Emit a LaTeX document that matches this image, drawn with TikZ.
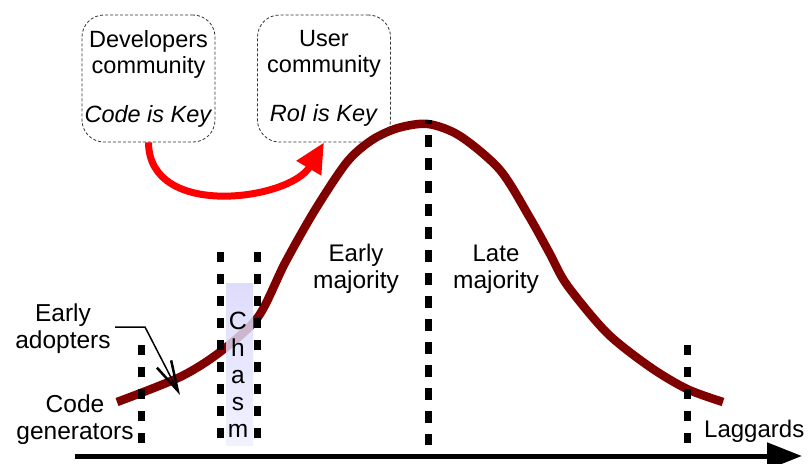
\documentclass[tikz,border=0pt]{standalone}
\usepackage{fontspec}
\setmainfont{Liberation Sans}
\usetikzlibrary{arrows.meta}
\definecolor{maroonc}{RGB}{128,0,0}
\definecolor{chasmtop}{RGB}{214,214,250}
\definecolor{chasmbot}{RGB}{238,238,255}
\begin{document}
\begin{tikzpicture}[x=1pt,y=-1pt,
  lbl/.style={font=\fontsize{24.5pt}{27pt}\selectfont, align=center, inner sep=0pt},
  cbox/.style={draw=black!80, dash pattern=on 3pt off 2pt, line width=0.8pt,
    rounded corners=22pt, minimum width=133pt, minimum height=127pt, inner sep=0pt,
    align=center, font=\fontsize{23.5pt}{26pt}\selectfont},
  sidedots/.style={line width=7pt, dash pattern=on 10pt off 12pt},
  middots/.style={line width=7pt, dash pattern=on 12pt off 11pt, dash phase=8pt},
]
\useasboundingbox (0,0) rectangle (810,463);

% bell curve
\draw[maroonc, line width=8.5pt] plot[smooth, tension=0.5] coordinates {
  (117,402) (180,377) (220,352) (258,317) (285,263) (315,210)
  (347,162) (372,140) (398,128) (428,124) (460,136) (500,170) (530,218)
  (550,254) (567,285) (607,333) (650,367) (687,389) (723,402)};

% chasm
\shade[top color=chasmtop, bottom color=chasmbot, opacity=0.82] (226,283) rectangle (253,445);

% dotted markers
\coordinate (a1) at (141,345); \coordinate (a2) at (141,445);
\coordinate (b1) at (220,252); \coordinate (b2) at (220,445);
\coordinate (c1) at (257,252); \coordinate (c2) at (257,445);
\coordinate (d1) at (428,120); \coordinate (d2) at (428,445);
\coordinate (e1) at (687,345); \coordinate (e2) at (687,445);
\draw[sidedots] (a1) -- (a2);
\draw[sidedots] (b1) -- (b2);
\draw[sidedots] (c1) -- (c2);
\draw[middots] (d1) -- (d2);
\draw[sidedots] (e1) -- (e2);

% community boxes
\node[cbox] (dev) at (148.5,78.5) {Developers\\community\\[23pt]\textit{Code is Key}};
\node[cbox] (user) at (324,78.5) {User\\community\\[23pt]\textit{RoI is Key}};
\draw[red, line width=7pt, -{Triangle[length=30pt,width=27pt]}]
  (dev.south) .. controls (149,220) and (290,200) .. (user.south);

% labels (base = baseline of last line)
\node[lbl, anchor=base] (chasm) at (238,437) {\fontsize{25pt}{32.5pt}\selectfont C\\h\\a\\s\\m};
\node[lbl, anchor=base] (ea) at (63,348) {Early\\adopters};
\node[lbl, anchor=base] (cg) at (75,439) {\fontsize{24.5pt}{24pt}\selectfont Code\\generators};
\node[lbl, anchor=base] (em) at (356,288) {\fontsize{24pt}{25pt}\selectfont Early\\majority};
\node[lbl, anchor=base] (lm) at (496,288) {\fontsize{24pt}{25pt}\selectfont Late\\majority};
\node[lbl, anchor=base west] (lag) at (704,437) {\fontsize{24pt}{25pt}\selectfont Laggards};

% early adopters pointer
\coordinate (p1) at (115,327);
\coordinate (p2) at (145,327);
\coordinate (p3) at (180,395);
\draw[line width=1.5pt, -{Straight Barb[length=30pt,width=16pt,line width=2.5pt]}]
  (p1) -- (p2) -- (p3);

% axis
\coordinate (ax1) at (75,456);
\coordinate (ax2) at (802,456);
\draw[line width=5pt, -{Triangle[length=35pt,width=26pt]}] (ax1) -- (ax2);
\end{tikzpicture}
\end{document}
